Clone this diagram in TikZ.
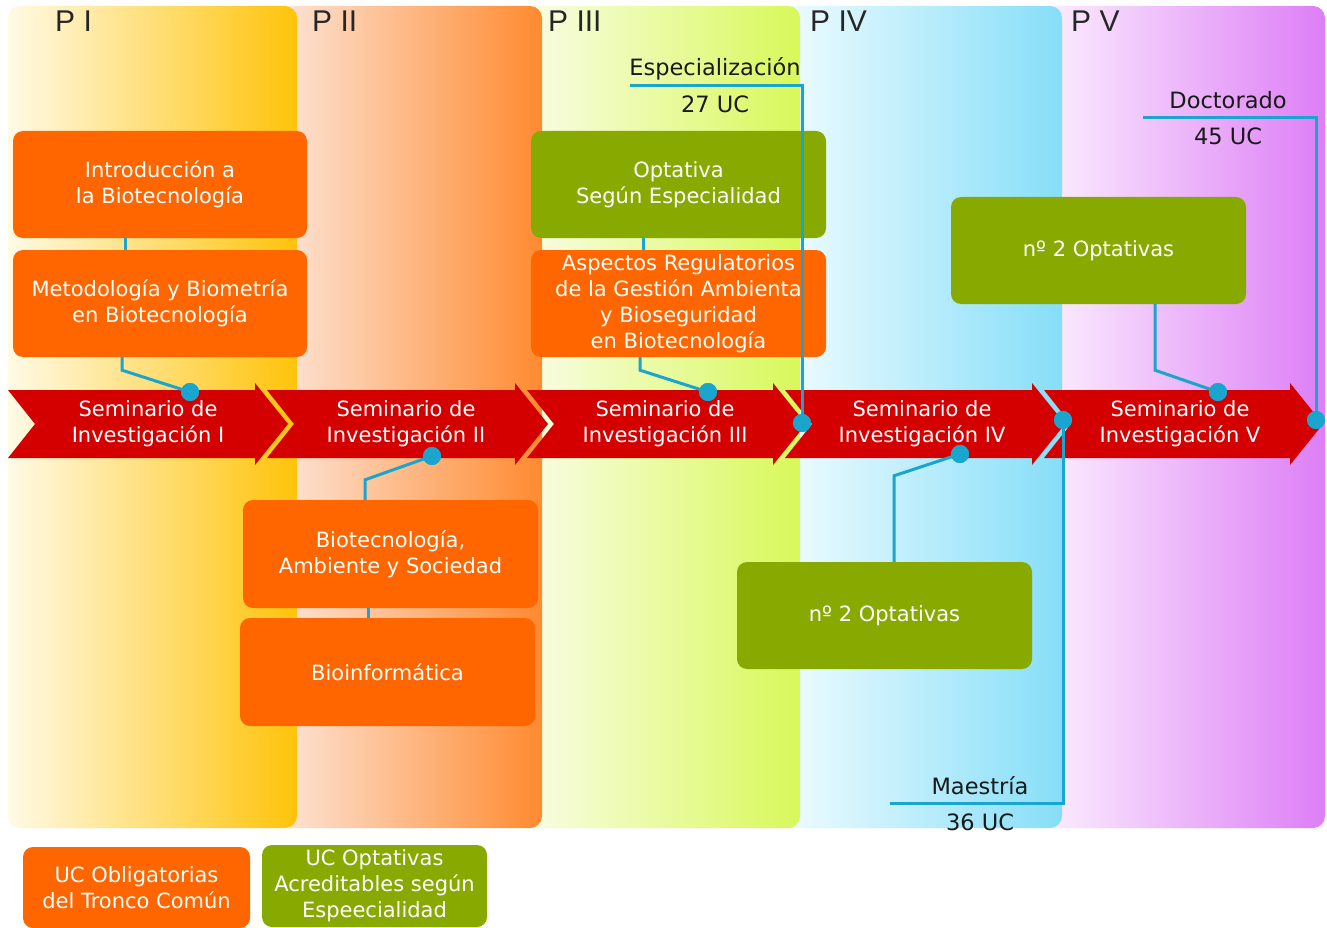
\documentclass[tikz,border=0pt]{standalone}
\usepackage{fontspec}
\setmainfont{DejaVu Sans}
\newfontfamily\hdrfont{Liberation Sans}
\usetikzlibrary{calc}
\definecolor{orangebox}{RGB}{255,102,0}
\definecolor{greenbox}{RGB}{136,170,0}
\definecolor{redarrow}{RGB}{212,0,0}
\definecolor{conncol}{RGB}{25,165,205}
\tikzset{
  obox/.style={rectangle, rounded corners=10pt, fill=orangebox, text=white, align=center,
    font=\fontsize{21}{26}\selectfont, inner sep=0pt},
  gbox/.style={obox, fill=greenbox},
  conn/.style={draw=conncol, line width=3pt},
  dot/.style={circle, fill=conncol, minimum size=18pt, inner sep=0pt},
  lbl/.style={font=\fontsize{22.5}{26}\selectfont, text=black!90, inner sep=0pt},
  segtxt/.style={text=white, align=center, font=\fontsize{21}{26}\selectfont, inner sep=0pt},
  hdr/.style={font=\hdrfont\fontsize{30}{30}\selectfont, anchor=base west, inner sep=0pt, text=black!85},
}
\newcommand{\arrowseg}[3]{%
  \fill[redarrow] (#1,390) -- (#2,390) -- (#2,383) -- (#3,424) -- (#2,465) -- (#2,458)
    -- (#1,458) -- ({#1+27},424) -- cycle;}
\begin{document}
\begin{tikzpicture}[x=1pt,y=-1pt]
\useasboundingbox (0,0) rectangle (1327,928);
\fill[white] (0,0) rectangle (1327,928);
% columns (drawn right to left so rounded right corners show the next column)
\shade[left color={rgb,255:red,252;green,240;blue,254}, right color={rgb,255:red,221;green,126;blue,246}, rounded corners=12pt] (1040,6) rectangle (1325,828);
\shade[left color={rgb,255:red,240;green,252;blue,255}, right color={rgb,255:red,134;green,222;blue,248}, rounded corners=12pt] (780,6) rectangle (1062,828);
\shade[left color={rgb,255:red,250;green,253;blue,232}, right color={rgb,255:red,216;green,248;blue,90}, rounded corners=12pt] (520,6) rectangle (800,828);
\shade[left color={rgb,255:red,253;green,228;blue,214}, right color={rgb,255:red,255;green,138;blue,48}, rounded corners=12pt] (280,6) rectangle (542,828);
\shade[left color={rgb,255:red,255;green,250;blue,230}, right color={rgb,255:red,255;green,195;blue,10}, rounded corners=12pt] (8,6) rectangle (297,828);
% headers
\node[hdr] (h1) at (55,32) {P I};
\node[hdr] (h2) at (312,32) {P II};
\node[hdr] (h3) at (548,32) {P III};
\node[hdr] (h4) at (810,32) {P IV};
\node[hdr] (h5) at (1071,32) {P V};
% arrow band
\arrowseg{8}{255}{288}
\arrowseg{267}{515}{548}
\arrowseg{527}{773}{806}
\arrowseg{785}{1032}{1065}
\arrowseg{1044}{1290}{1323}
\node[segtxt] (s1) at (148,424) {Seminario de\\Investigación I};
\node[segtxt] (s2) at (406,424) {Seminario de\\Investigación II};
\node[segtxt] (s3) at (665,424) {Seminario de\\Investigación III};
\node[segtxt] (s4) at (922,424) {Seminario de\\Investigación IV};
\node[segtxt] (s5) at (1180,424) {Seminario de\\Investigación V};
% boxes
\node[obox, minimum width=294pt, minimum height=107pt] (intro) at (160,184.5) {Introducción a\\la Biotecnología};
\node[obox, minimum width=294pt, minimum height=107pt] (metod) at (160,303.5) {Metodología y Biometría\\en Biotecnología};
\node[gbox, minimum width=295pt, minimum height=107pt] (optat) at (678.5,184.5) {Optativa\\Según Especialidad};
\node[obox, minimum width=295pt, minimum height=107pt] (aspec) at (678.5,303.5) {Aspectos Regulatorios\\de la Gestión Ambienta\\y Bioseguridad\\en Biotecnología};
\node[gbox, minimum width=295pt, minimum height=107pt] (optV) at (1098.5,250.5) {nº 2 Optativas};
\node[obox, minimum width=295pt, minimum height=108pt] (biotec) at (390.5,554) {Biotecnología,\\Ambiente y Sociedad};
\node[obox, minimum width=295pt, minimum height=108pt] (bioinf) at (387.5,672) {Bioinformática};
\node[gbox, minimum width=295pt, minimum height=107pt] (optIV) at (884.5,615.5) {nº 2 Optativas};
% legend
\node[obox, minimum width=227pt, minimum height=81pt] (legO) at (136.5,887.5) {UC Obligatorias\\del Tronco Común};
\node[gbox, minimum width=225pt, minimum height=82pt] (legG) at (374.5,886) {UC Optativas\\Acreditables según\\Espeecialidad};
% dots
\node[dot] (d1) at (190,392) {};
\node[dot] (d2) at (432,456) {};
\node[dot] (d3) at (708,392) {};
\node[dot] (d4) at (802,423) {};
\node[dot] (d5) at (960,454) {};
\node[dot] (d6) at (1063,420) {};
\node[dot] (d7) at (1218,392) {};
\node[dot] (d8) at (1316,420) {};
% labels
\node[lbl] (esp) at (715,69) {Especialización};
\node[lbl] (esp27) at (715,104) {27 UC};
\node[lbl] (doc) at (1228,100) {Doctorado};
\node[lbl] (doc45) at (1228,136) {45 UC};
\node[lbl] (mae) at (980,786) {Maestría};
\node[lbl] (mae36) at (980,822) {36 UC};
\coordinate (espL) at (630,86);
\coordinate (docL) at (1143,118);
\coordinate (maeL) at (890,803);
% connectors
\draw[conn] ([xshift=-35pt]intro.south) -- ([xshift=-35pt]metod.north);
\draw[conn] ([xshift=-38pt]metod.south) -- ++(0,13) -- (d1.center);
\draw[conn] ([xshift=-25.5pt]biotec.north) -- ++(0,-20) -- (d2.center);
\draw[conn] ([xshift=-22.5pt]biotec.south) -- ([xshift=-19.5pt]bioinf.north);
\draw[conn] ([xshift=-35.5pt]optat.south) -- ([xshift=-35.5pt]aspec.north);
\draw[conn] ([xshift=-38.5pt]aspec.south) -- ++(0,13) -- (d3.center);
\draw[conn] (espL) -- (espL -| d4) -- (d4.center);
\draw[conn] ([xshift=9.5pt]optIV.north) -- ++(0,-86) -- (d5.center);
\draw[conn] (d6.center) -- (d6 |- maeL) -- (maeL);
\draw[conn] ([xshift=56.5pt]optV.south) -- ++(0,66) -- (d7.center);
\draw[conn] (docL) -- (docL -| d8) -- (d8.center);
% redraw dots on top
\foreach \d in {d1,d2,d3,d4,d5,d6,d7,d8} \fill[conncol] (\d) circle (9pt);
\end{tikzpicture}
\end{document}
